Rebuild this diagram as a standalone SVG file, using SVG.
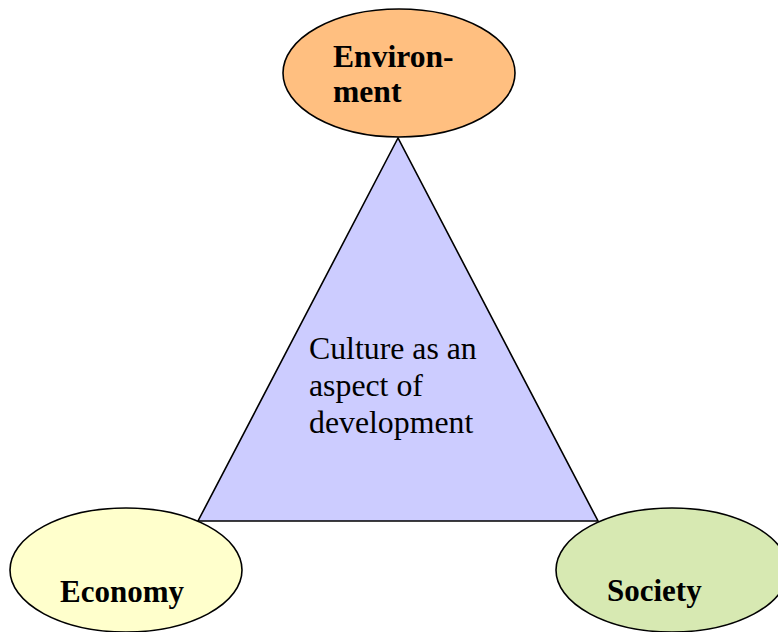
<svg xmlns="http://www.w3.org/2000/svg" width="778" height="632" viewBox="0 0 778 632">
<style>
.shape{stroke:#000;stroke-width:1.6}
.bold{font-family:"Liberation Serif","Times New Roman",serif;font-weight:bold;font-size:31px;fill:#000}
.reg{font-family:"Liberation Serif","Times New Roman",serif;font-size:31.8px;fill:#000}
</style>
<rect width="778" height="632" fill="#fff"/>
<g id="connectors"></g>
<g id="culture">
<polygon class="shape" points="398,138 198,521 598,521" fill="#CCCCFF" stroke-linejoin="miter"/>
<text class="reg" x="309" y="359">Culture as an</text>
<text class="reg" x="309" y="396">aspect of</text>
<text class="reg" x="309" y="433">development</text>
</g>
<g id="environment">
<ellipse class="shape" cx="399" cy="73" rx="116" ry="64" fill="#FFBF80"/>
<text class="bold" x="333" y="67" style="font-size:31.6px">Environ-</text>
<text class="bold" x="333" y="102" style="font-size:31.6px">ment</text>
</g>
<g id="economy">
<ellipse class="shape" cx="126" cy="570" rx="116" ry="62" fill="#FFFFCC"/>
<text class="bold" x="60" y="602">Economy</text>
</g>
<g id="society">
<ellipse class="shape" cx="672" cy="570" rx="116" ry="62" fill="#D7E9B2"/>
<text class="bold" x="607" y="601">Society</text>
</g>
</svg>
